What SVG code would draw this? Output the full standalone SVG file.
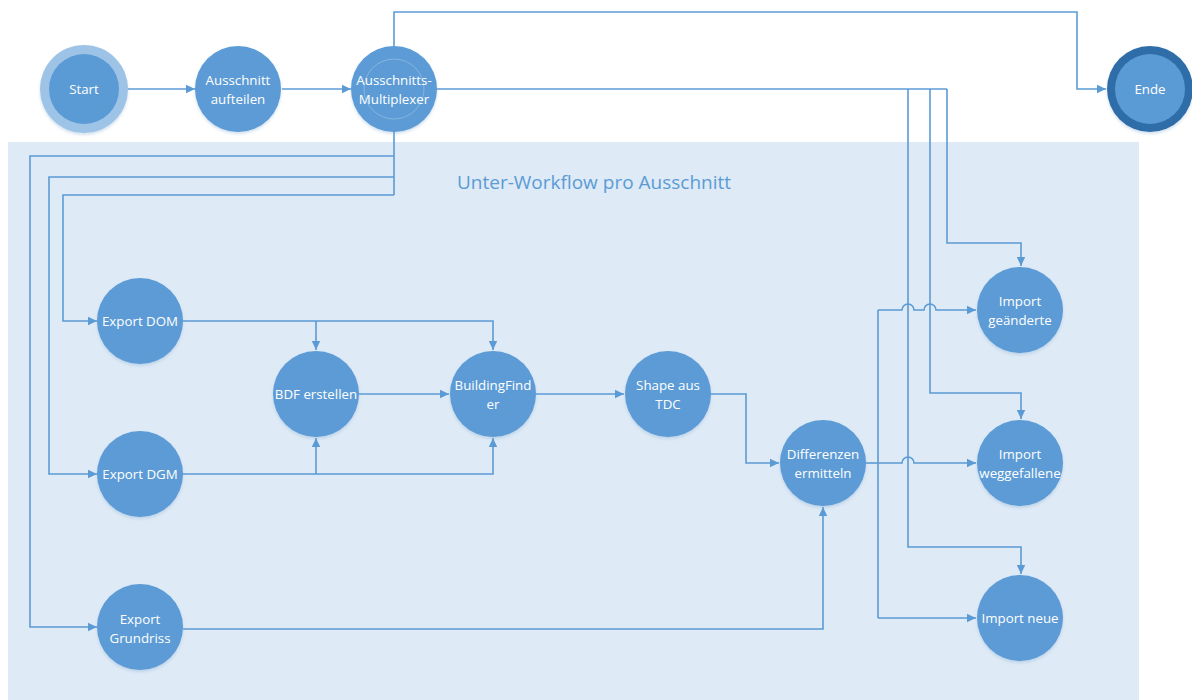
<svg xmlns="http://www.w3.org/2000/svg" width="1192" height="700" viewBox="0 0 1192 700">
<style>
.n{fill:#5b9bd5}
.t{fill:#ffffff;font-family:"Open Sans","Liberation Sans",sans-serif;font-size:13.3px;text-anchor:middle}
.c{fill:none;stroke:#5b9bd5;stroke-width:1.6}
.a{marker-end:url(#ah)}
</style>
<defs>
<marker id="ah" markerWidth="10" markerHeight="10" refX="9" refY="5" orient="auto" markerUnits="userSpaceOnUse">
<path d="M0,0.8 L9,5 L0,9.2 Z" fill="#5b9bd5"/>
</marker>
<filter id="sh" x="-20%" y="-20%" width="140%" height="150%">
<feDropShadow dx="0" dy="2" stdDeviation="1.5" flood-color="#7fa8d0" flood-opacity="0.35"/>
</filter>
</defs>
<rect x="0" y="0" width="1192" height="700" fill="#ffffff"/>
<rect id="container" x="8" y="142" width="1131" height="558" fill="#deeaf6"/>
<text x="594" y="189" style="fill:#5b9bd5;font-family:'Open Sans','Liberation Sans',sans-serif;font-size:19px;text-anchor:middle">Unter-Workflow pro Ausschnitt</text>

<g id="connectors">
<path class="c a" d="M128,89 H195"/>
<path class="c a" d="M282,89 H351"/>
<path class="c a" d="M394,46 V12 H1077 V89 H1106"/>
<path class="c" d="M437,89 H947"/>
<path class="c a" d="M947,89 V243 H1021 V266"/>
<path class="c a" d="M930,89 V393 H1021 V419"/>
<path class="c a" d="M908,89 V547 H1021 V574"/>
<path class="c" d="M394,132 V195"/>
<path class="c a" d="M394,156 H30 V627 H97"/>
<path class="c a" d="M394,177 H49 V474 H97"/>
<path class="c a" d="M394,195 H63 V321 H97"/>
<path class="c a" d="M183,321 H493 V350"/>
<path class="c a" d="M316,321 V350"/>
<path class="c a" d="M183,474 H493 V438"/>
<path class="c a" d="M316,474 V438"/>
<path class="c a" d="M359,394 H449"/>
<path class="c a" d="M536,394 H624"/>
<path class="c a" d="M711,394 H746 V463 H779"/>
<path class="c a" d="M183,629 H823 V507"/>
<path class="c" d="M866,463 H878"/>
<path class="c" d="M878,310 V618"/>
<path class="c a" d="M878,310 H902 A6,6 0 0 1 914,310 H924 A6,6 0 0 1 936,310 H976"/>
<path class="c a" d="M878,463 H902 A6,6 0 0 1 914,463 H976"/>
<path class="c a" d="M878,618 H976"/>
</g>

<g id="start">
<circle cx="84" cy="89" r="44" fill="#9dc3e6" filter="url(#sh)"/>
<circle cx="84" cy="89" r="35" class="n"/>
<text class="t" x="84" y="94">Start</text>
</g>
<g id="aufteilen">
<circle cx="238" cy="89" r="43" class="n" filter="url(#sh)"/>
<text class="t" x="238" y="85">Ausschnitt</text>
<text class="t" x="238" y="104">aufteilen</text>
</g>
<g id="multiplexer">
<circle cx="394" cy="89" r="43" class="n" filter="url(#sh)"/>
<circle cx="394" cy="89" r="30" fill="none" stroke="#ffffff" stroke-opacity="0.25" stroke-width="1"/>
<text class="t" x="394" y="85">Ausschnitts-</text>
<text class="t" x="394" y="104">Multiplexer</text>
</g>
<g id="ende">
<circle cx="1150" cy="89" r="43" fill="#2e6da8" filter="url(#sh)"/>
<circle cx="1150" cy="89" r="35" class="n"/>
<text class="t" x="1150" y="94">Ende</text>
</g>
<g id="export-dom">
<circle cx="140" cy="321" r="43" class="n" filter="url(#sh)"/>
<text class="t" x="140" y="326">Export DOM</text>
</g>
<g id="export-dgm">
<circle cx="140" cy="474" r="43" class="n" filter="url(#sh)"/>
<text class="t" x="140" y="479">Export DGM</text>
</g>
<g id="export-grundriss">
<circle cx="140" cy="627" r="43" class="n" filter="url(#sh)"/>
<text class="t" x="140" y="624">Export</text>
<text class="t" x="140" y="643">Grundriss</text>
</g>
<g id="bdf">
<circle cx="316" cy="394" r="43" class="n" filter="url(#sh)"/>
<text class="t" x="316" y="399">BDF erstellen</text>
</g>
<g id="buildingfinder">
<circle cx="493" cy="394" r="43" class="n" filter="url(#sh)"/>
<text class="t" x="493" y="390">BuildingFind</text>
<text class="t" x="493" y="409">er</text>
</g>
<g id="shape">
<circle cx="668" cy="394" r="43" class="n" filter="url(#sh)"/>
<text class="t" x="668" y="390">Shape aus</text>
<text class="t" x="668" y="409">TDC</text>
</g>
<g id="differenzen">
<circle cx="823" cy="463" r="43" class="n" filter="url(#sh)"/>
<text class="t" x="823" y="459">Differenzen</text>
<text class="t" x="823" y="478">ermitteln</text>
</g>
<g id="import-geaenderte">
<circle cx="1020" cy="310" r="43" class="n" filter="url(#sh)"/>
<text class="t" x="1020" y="306">Import</text>
<text class="t" x="1020" y="325">geänderte</text>
</g>
<g id="import-weggefallene">
<circle cx="1020" cy="463" r="43" class="n" filter="url(#sh)"/>
<text class="t" x="1020" y="459">Import</text>
<text class="t" x="1020" y="478">weggefallene</text>
</g>
<g id="import-neue">
<circle cx="1020" cy="618" r="43" class="n" filter="url(#sh)"/>
<text class="t" x="1020" y="623">Import neue</text>
</g>
</svg>
